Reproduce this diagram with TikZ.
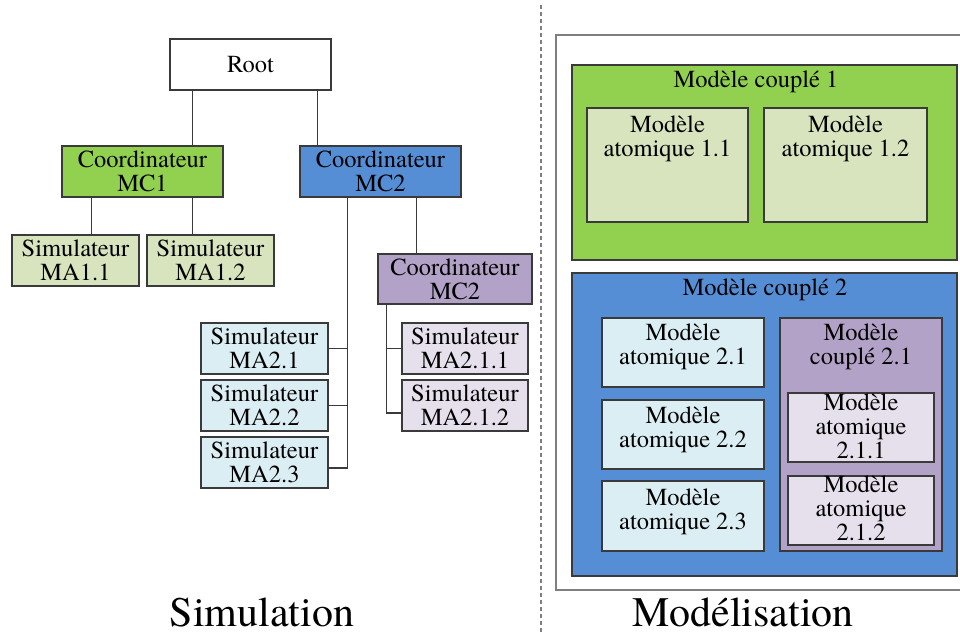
\documentclass[tikz,border=0pt]{standalone}
\usepackage{fontspec}
\IfFontExistsTF{texgyretermes-regular.otf}
  {\setmainfont{texgyretermes-regular.otf}}
  {\setmainfont{Liberation Serif}}
\definecolor{cgreen}{HTML}{92D050}
\definecolor{cblue}{HTML}{558ED5}
\definecolor{cpurple}{HTML}{B3A2C7}
\definecolor{lgreen}{HTML}{D7E4BD}
\definecolor{lblue}{HTML}{DBEEF4}
\definecolor{lpurple}{HTML}{E6E0EC}
\definecolor{bordc}{HTML}{3A3A3A}
\definecolor{outc}{HTML}{7F7F7F}
\begin{document}
\begin{tikzpicture}[x=1pt,y=-1pt,
  box/.style={draw=bordc, line width=1.2pt, inner sep=0pt, align=center,
              font=\rmfamily\fontsize{24.5}{24}\selectfont},
  txt/.style={inner sep=0pt, align=center, anchor=north,
              font=\rmfamily\fontsize{24.5}{24}\selectfont},
  ln/.style={draw=bordc, line width=1.2pt},
  big/.style={inner sep=0pt, anchor=base, font=\rmfamily\fontsize{42}{44}\selectfont}]
\useasboundingbox (0,0) rectangle (960,633);
\fill[white] (0,0) rectangle (960,633);

% ---------------- Simulation tree ----------------
\node[box, fill=white, minimum width=161pt, minimum height=51pt] (root) at (250.5,64.5) {Root};
\node[box, fill=cgreen, minimum width=161pt, minimum height=51pt] (mc1) at (142.5,171.5) {Coordinateur\\MC1};
\node[box, fill=cblue, minimum width=161pt, minimum height=51pt] (mc2) at (380.5,171.5) {Coordinateur\\MC2};
\node[box, fill=lgreen, minimum width=127pt, minimum height=51pt] (ma11) at (75.5,260.5) {Simulateur\\MA1.1};
\node[box, fill=lgreen, minimum width=127pt, minimum height=51pt] (ma12) at (210.5,260.5) {Simulateur\\MA1.2};
\node[box, fill=cpurple, minimum width=154pt, minimum height=50pt] (mc21) at (455,279) {Coordinateur\\MC2};
\node[box, fill=lblue, minimum width=127pt, minimum height=51pt] (ma21) at (264.5,348.5) {Simulateur\\MA2.1};
\node[box, fill=lblue, minimum width=127pt, minimum height=51pt] (ma22) at (264.5,405.5) {Simulateur\\MA2.2};
\node[box, fill=lblue, minimum width=127pt, minimum height=51pt] (ma23) at (264.5,462.5) {Simulateur\\MA2.3};
\node[box, fill=lpurple, minimum width=126pt, minimum height=51pt] (ma211) at (465,348.5) {Simulateur\\MA2.1.1};
\node[box, fill=lpurple, minimum width=126pt, minimum height=51pt] (ma212) at (465,405.5) {Simulateur\\MA2.1.2};

% connectors
\draw[ln] ([xshift=23pt]root.south west) -- ([xshift=23pt]root.south west |- mc1.north);
\draw[ln] ([xshift=-14pt]root.south east) -- ([xshift=-14pt]root.south east |- mc2.north);
\draw[ln] ([xshift=30pt]mc1.south west) -- ([xshift=30pt]mc1.south west |- ma11.north);
\draw[ln] ([xshift=131pt]mc1.south west) -- ([xshift=131pt]mc1.south west |- ma12.north);
\coordinate (t2) at ([xshift=48pt]mc2.south west);
\draw[ln] (t2) |- ([yshift=-5.5pt]ma23.east);
\draw[ln] (ma21.east) -- (ma21.east -| t2);
\draw[ln] (ma22.east) -- (ma22.east -| t2);
\draw[ln] ([xshift=117pt]mc2.south west) -- ([xshift=117pt]mc2.south west |- mc21.north);
\coordinate (t3) at ([xshift=9pt]mc21.south west);
\draw[ln] (t3) |- ([yshift=-7.5pt]ma212.west);
\draw[ln] (ma211.west) -- (ma211.west -| t3);

% separator
\draw[outc, line width=1.2pt, dash pattern=on 4pt off 3pt] (541,5) -- (541,633);

% ---------------- Modelisation ----------------
\node[draw=outc, line width=1.3pt, fill=white, inner sep=0pt, minimum width=408pt, minimum height=555pt] (outer) at (760,312.5) {};
\node[box, fill=cgreen, minimum width=385pt, minimum height=195pt] (cp1) at (764.5,162.5) {};
\node[box, fill=lgreen, minimum width=161pt, minimum height=114pt] (at11) at (667.5,165) {};
\node[box, fill=lgreen, minimum width=163pt, minimum height=114pt] (at12) at (845.5,165) {};
\node[txt] (tcp1) at (756,70.2) {Modèle couplé 1};
\node[txt] (t11) at (667.5,115.2) {Modèle\\atomique 1.1};
\node[txt] (t12) at (845.5,115.2) {Modèle\\atomique 1.2};

\node[box, fill=cblue, minimum width=385pt, minimum height=303pt] (cp2) at (764.5,424.5) {};
\node[txt] (tcp2) at (765,278.2) {Modèle couplé 2};
\node[box, fill=lblue, minimum width=162pt, minimum height=69pt] (at21) at (683,352.5) {};
\node[box, fill=lblue, minimum width=162pt, minimum height=69pt] (at22) at (683,434.5) {};
\node[box, fill=lblue, minimum width=162pt, minimum height=70pt] (at23) at (683,516) {};
\node[txt] (t21) at (683,323.2) {Modèle\\atomique 2.1};
\node[txt] (t22) at (683,406.2) {Modèle\\atomique 2.2};
\node[txt] (t23) at (683,488.9) {Modèle\\atomique 2.3};
\node[box, fill=cpurple, minimum width=162pt, minimum height=233pt] (cp21) at (861,434.5) {};
\node[txt] (tcp21) at (861,323.2) {Modèle\\couplé 2.1};
\node[box, fill=lpurple, minimum width=146pt, minimum height=69pt] (at211) at (861,427.5) {};
\node[box, fill=lpurple, minimum width=146pt, minimum height=69pt] (at212) at (861,510.5) {};
\node[txt] (t211) at (861,393.2) {Modèle\\atomique\\2.1.1};
\node[txt] (t212) at (861,475.5) {Modèle\\atomique\\2.1.2};

% captions
\node[big] (lsim) at (262,626) {Simulation};
\node[big] (lmod) at (743,626) {Modélisation};
\end{tikzpicture}
\end{document}
